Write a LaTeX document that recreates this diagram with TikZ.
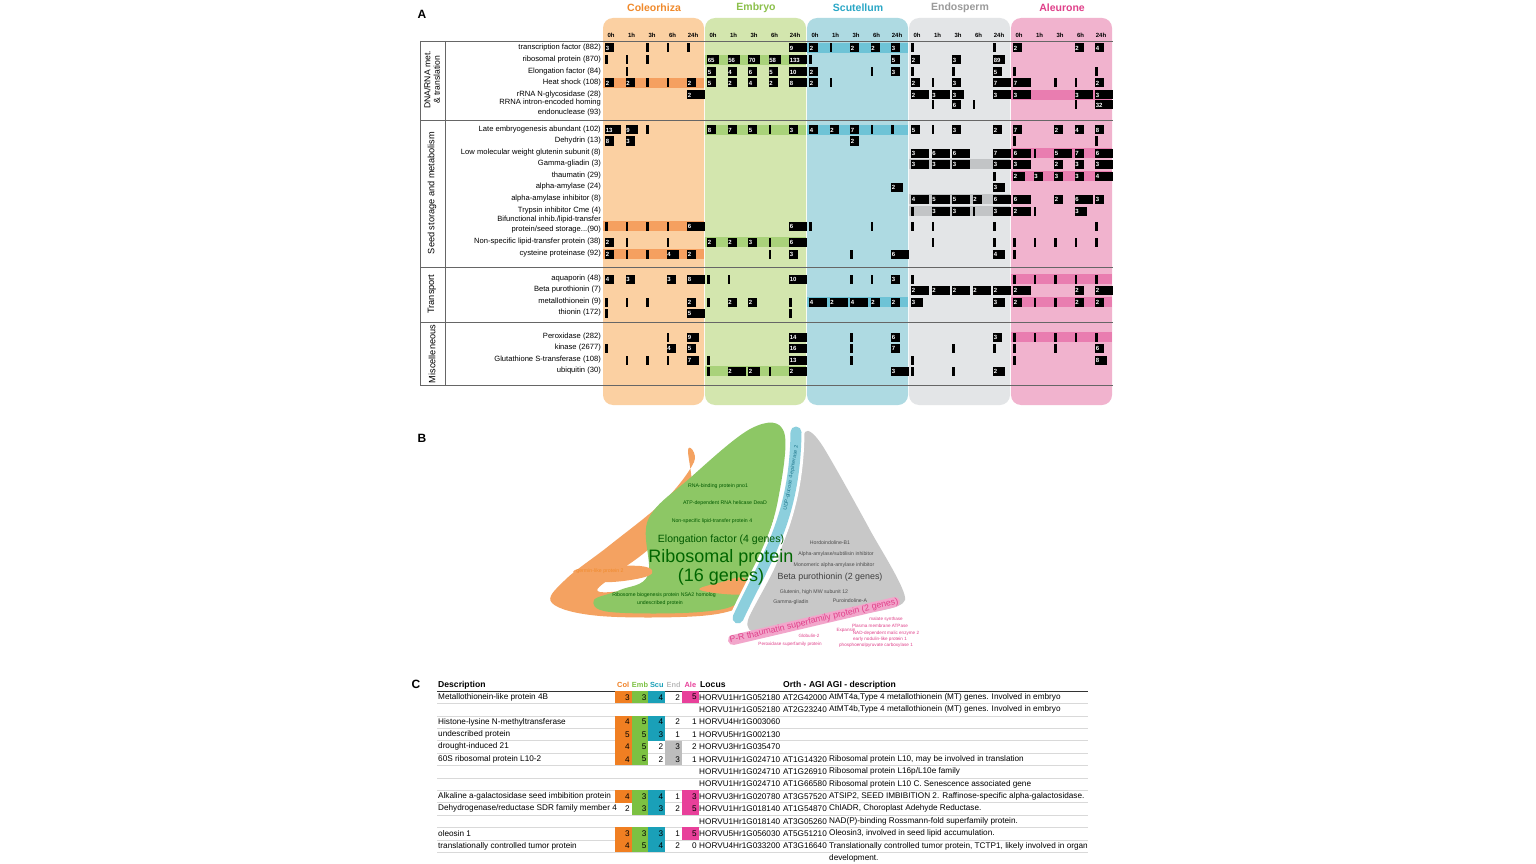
\documentclass[tikz,border=0pt]{standalone}
\usepackage{fontspec}
\setmainfont{Liberation Sans}
\usetikzlibrary{positioning}
\definecolor{colbg}{HTML}{FBD0A2}\definecolor{colbd}{HTML}{F5A060}\definecolor{colhd}{HTML}{F08A2C}
\definecolor{embbg}{HTML}{D3E6AE}\definecolor{embbd}{HTML}{A9D27A}\definecolor{embhd}{HTML}{8CC04B}
\definecolor{scubg}{HTML}{AEDAE2}\definecolor{scubd}{HTML}{6EC3D6}\definecolor{scuhd}{HTML}{2AA7C6}
\definecolor{endbg}{HTML}{E3E5E7}\definecolor{endbd}{HTML}{C2C4C6}\definecolor{endhd}{HTML}{9A9A9A}
\definecolor{alebg}{HTML}{F1B3CE}\definecolor{alebd}{HTML}{E97DB0}\definecolor{alehd}{HTML}{E0408A}
\definecolor{tc1}{HTML}{F07F22}\definecolor{tc2}{HTML}{7CC142}\definecolor{tc3}{HTML}{1AA0B8}
\definecolor{tc4}{HTML}{BDBDBD}\definecolor{tc5}{HTML}{E8409A}
\definecolor{bor}{HTML}{F4A261}\definecolor{bgr}{HTML}{8DC765}\definecolor{bbl}{HTML}{8CCFDD}
\definecolor{bgy}{HTML}{C8C8C8}\definecolor{bpk}{HTML}{F2A6CB}
% one black cell / one thin tick in panel A
\newcommand\bx[5]{\fill ({605+102*#1+20.5*#2},{#3-4.5}) rectangle ++(#4,9);
  \node[num] at ({605+102*#1+20.5*#2},#3) {#5};}
\newcommand\tk[3]{\fill ({605+102*#1+20.5*#2},{#3-4.5}) rectangle ++(2.5,9);}
\newcommand\band[3]{\fill[#3] ({603+102*#1},{#2-5}) rectangle ++(101,10);}
\newcommand\trow[2]{\foreach \c/\t in {#2}{\tk{\c}{\t}{#1}}}
\newcommand\brow[2]{\foreach \c/\t/\w/\n in {#2}{\bx{\c}{\t}{#1}{\w}{\n}}}
% score cells in panel C
\newcommand\srow[2]{\foreach \v/\f [count=\i] in {#2}{%
  \ifnum\f=1 \fill[tc\i] ({598+16.8*\i},{#1-6.2}) rectangle ++(16.8,12.4);\fi
  \node[tab,anchor=east] at ({614+16.8*\i},#1) {\v};}}
\begin{document}
\begin{tikzpicture}[x=1pt,y=-1pt,
  num/.style={anchor=west,inner sep=0.6pt,text=white,font=\fontsize{6}{6}\selectfont\bfseries},
  lab/.style={anchor=east,inner sep=1pt,font=\fontsize{7.6}{9.6}\selectfont,align=right},
  hd/.style={font=\fontsize{10.5}{12}\selectfont\bfseries},
  tm/.style={font=\fontsize{6}{6}\selectfont\bfseries},
  cat/.style={rotate=90,font=\fontsize{9.2}{10}\selectfont,align=center},
  tab/.style={inner sep=1pt,font=\fontsize{8.2}{9}\selectfont},
  tabh/.style={inner sep=1pt,anchor=west,font=\fontsize{8.6}{9}\selectfont\bfseries},
  tiny/.style={inner sep=0pt,font=\fontsize{5.2}{5.6}\selectfont},
  panel/.style={font=\fontsize{12}{13}\selectfont\bfseries}]
\useasboundingbox (0,0) rectangle (1536,864);
\fill[white] (0,0) rectangle (1536,864);

%% panel A
\node[panel] (pA) at (422,14) {A};
\foreach \nm/\bg/\hc [count=\i from 0] in {Coleorhiza/colbg/colhd,Embryo/embbg/embhd,Scutellum/scubg/scuhd,Endosperm/endbg/endhd,Aleurone/alebg/alehd}{
  \fill[\bg,rounded corners=10pt] ({603+102*\i},18) rectangle ++(101,387);
  \node[hd,text=\hc] (h\i) at ({654+102*\i},7.5) {\nm};
  \foreach \tt [count=\j from 0] in {0h,1h,3h,6h,24h}
    \node[tm] at ({611+102*\i+20.5*\j},35) {\tt};
}
% highlighted rows
\band{2}{48}{scubd}\band{1}{60}{embbd}\band{0}{83}{colbd}\band{4}{95}{alebd}
\band{1}{130}{embbd}\band{2}{130}{scubd}\band{4}{153}{alebd}\band{3}{164}{endbd}
\band{4}{176}{alebd}\band{3}{199}{endbd}\band{3}{211}{endbd}\band{0}{226}{colbd}
\band{1}{242}{embbd}\band{0}{254}{colbd}\band{4}{279}{alebd}\band{2}{302}{scubd}
\band{4}{302}{alebd}\band{4}{337}{alebd}\band{1}{371}{embbd}
% frame
\draw[gray!80!black,line width=0.6pt] (420,41) -- (1113,41) (420,120) -- (1113,120)
  (420,267) -- (1113,267) (420,322) -- (1113,322) (420,385) -- (1113,385)
  (420,41) -- (420,385) (445,41) -- (445,385);
\node[cat,font=\fontsize{8.6}{9.4}\selectfont] at (432,80) {DNA/RNA met.\\ \& translation};
\node[cat] at (432,193) {Seed storage and metabolism};
\node[cat] at (432,294) {Transport};
\node[cat] at (432,354) {Miscelleneous};
% row labels
\foreach \yy/\tx in {48/transcription factor (882),60/ribosomal protein (870),72/Elongation factor (84),
  83/Heat shock (108),95/rRNA N-glycosidase (28),103/RRNA intron-encoded homing,113/endonuclease (93),
  130/Late embryogenesis abundant (102),141/Dehydrin (13),153/Low molecular weight glutenin subunit (8),
  164/Gamma-gliadin (3),176/thaumatin  (29),187/alpha-amylase (24),199/alpha-amylase inhibitor (8),
  211/Trypsin inhibitor Cme (4),220/{Bifunctional inhib./lipid-transfer},230/{protein/seed storage...(90)},
  242/Non-specific lipid-transfer protein (38),254/cysteine proteinase (92),279/aquaporin (48),
  290/Beta purothionin (7),302/metallothionein (9),313/thionin (172),337/Peroxidase (282),
  348/kinase (2677),360/Glutathione S-transferase (108),371/ubiquitin (30)}
  \node[lab] at (602,\yy) {\tx};
% cells
\trow{48}{0/2,0/3,0/4,2/1,3/0,3/4}
\brow{48}{0/0/9/3,1/4/18/9,2/0/9/2,2/2/9/2,2/3/9/2,2/4/9/3,4/0/9/2,4/3/9/2,4/4/9/4}
\trow{60}{0/0,0/1,0/2,2/0}
\brow{60}{1/0/12/65,1/1/12/56,1/2/12/70,1/3/12/58,1/4/18/133,2/4/9/5,3/0/9/2,3/2/9/3,3/4/12/89}
\trow{72}{0/1,2/3,3/0,3/2,4/0,4/4}
\brow{72}{1/0/9/5,1/1/9/4,1/2/9/6,1/3/9/5,1/4/18/10,2/0/9/2,2/4/9/3,3/4/9/5}
\trow{83}{0/2,0/3,2/1,3/1,4/2,4/3}
\brow{83}{0/0/9/2,0/1/9/2,0/4/9/2,1/0/9/5,1/1/9/2,1/2/9/4,1/3/9/2,1/4/18/8,2/0/9/2,3/0/9/2,3/2/9/3,3/4/18/7,4/0/18/7,4/4/9/2}
\brow{95}{0/4/18/2,3/0/18/2,3/1/18/3,3/2/12/3,3/4/18/3,4/0/18/3,4/3/18/3,4/4/18/3}
\trow{105}{3/1,3/3,4/3}
\brow{105}{3/2/9/6,4/4/18/32}
\trow{130}{0/2,1/3,2/3,2/4,3/1}
\brow{130}{0/0/16/13,0/1/12/9,1/0/9/8,1/1/9/7,1/2/9/5,1/4/9/3,2/0/9/4,2/1/9/2,2/2/9/7,3/0/9/5,3/2/9/3,3/4/9/2,4/0/9/7,4/2/9/2,4/3/9/4,4/4/9/8}
\trow{141}{4/0,4/4}
\brow{141}{0/0/9/8,0/1/9/3,2/2/9/2}
\trow{153}{4/1}
\brow{153}{3/0/18/3,3/1/18/6,3/2/18/6,3/4/18/7,4/0/18/6,4/2/18/5,4/3/9/7,4/4/18/6}
\brow{164}{3/0/18/3,3/1/18/3,3/2/18/3,3/4/18/3,4/0/18/3,4/2/9/2,4/3/9/3,4/4/18/3}
\trow{176}{3/4}
\brow{176}{4/0/12/2,4/1/9/3,4/2/9/3,4/3/9/3,4/4/18/4}
\brow{187}{2/4/12/2,3/4/12/3}
\brow{199}{3/0/18/4,3/1/18/5,3/2/18/5,3/3/9/2,3/4/18/6,4/0/18/6,4/2/9/2,4/3/18/6,4/4/9/3}
\trow{211}{3/0,3/3,4/1}
\brow{211}{3/1/18/3,3/2/18/3,3/4/18/3,4/0/18/2,4/3/12/3}
\trow{226}{0/0,0/1,0/2,0/3,2/0,2/3,3/0,3/1,3/4,4/4}
\brow{226}{0/4/18/6,1/4/18/6}
\trow{242}{0/1,0/3,1/3,3/1,3/4,4/0,4/1,4/2,4/3,4/4}
\brow{242}{0/0/9/2,1/0/9/2,1/1/9/2,1/2/9/3,1/4/18/6}
\trow{254}{0/1,0/2,1/3,2/2,4/0}
\brow{254}{0/0/9/2,0/3/12/4,0/4/9/2,1/4/9/3,2/4/18/6,3/4/12/4}
\trow{279}{1/0,1/1,2/2,2/3,3/0,4/0,4/1,4/2,4/3,4/4}
\brow{279}{0/0/9/4,0/1/9/3,0/3/9/3,0/4/18/8,1/4/18/10,2/4/9/3}
\brow{290}{3/0/18/2,3/1/18/2,3/2/18/2,3/3/18/2,3/4/18/2,4/0/18/2,4/3/9/2,4/4/18/2}
\trow{302}{0/0,0/1,0/2,1/0,1/4,4/1,4/2}
\brow{302}{0/4/9/2,1/1/9/2,1/2/9/2,2/0/18/4,2/1/18/2,2/2/18/4,2/3/9/2,2/4/9/2,3/0/12/3,3/4/12/3,4/0/9/2,4/3/9/2,4/4/9/2}
\trow{313}{0/0,1/4}
\brow{313}{0/4/18/5}
\trow{337}{0/3,2/2,4/0,4/1,4/2,4/3,4/4}
\brow{337}{0/4/12/9,1/4/18/14,2/4/9/6,3/4/9/3}
\trow{348}{0/0,2/2,3/2,3/4,4/0,4/2}
\brow{348}{0/3/9/4,0/4/9/5,1/4/18/16,2/4/9/7,4/4/9/6}
\trow{360}{0/1,0/2,0/3,1/0,2/2,3/0,4/0}
\brow{360}{0/4/12/7,1/4/18/13,4/4/12/8}
\trow{371}{1/0,1/3,3/0,3/2}
\brow{371}{1/1/18/2,1/2/12/2,1/4/18/2,2/4/18/3,3/4/12/2}

%% panel B
\node[panel] (pB) at (422,438) {B};
\fill[bor] plot[smooth cycle,tension=0.6] coordinates {(688,450) (694,462) (665,500) (610,545)
  (565,580) (552,603) (600,616) (700,616) (744,605) (746,587) (700,590) (655,588) (600,592)
  (610,578) (650,548) (690,505)};
\fill[bgr] plot[smooth cycle,tension=0.6] coordinates {(752,428) (784,432) (778,500) (760,560)
  (742,600) (700,612) (610,612) (594,600) (620,590) (648,575) (648,520) (690,478)};
\fill[bor] plot[smooth cycle,tension=0.7] coordinates {(575,570) (640,566) (648,576) (600,582)};
\fill[bor] plot[smooth cycle,tension=0.7] coordinates {(744,578) (746,594) (700,590) (722,582)};
\fill[bgy] plot[smooth cycle,tension=0.4] coordinates {(805,432) (822,445) (870,530) (905,600)
  (850,616) (760,632) (748,620) (778,560) (795,480)};
\draw[white,line width=17pt,line cap=round] (796,432) .. controls (795,520) and (765,560) .. (738,618);
\draw[bbl,line width=11pt,line cap=round] (796,432) .. controls (795,520) and (765,560) .. (738,618);
\draw[bpk,line width=10pt,line cap=round] (733,640) -- (895,602);
\node[tiny,text=scuhd!70!black,rotate=80] at (791,478) {UDP-glucose 4-epimerase 2};
\foreach \xx/\yy/\tx in {718/486/RNA-binding protein pno1,725/503/ATP-dependent RNA helicase DeaD,
  712/521/Non-specific lipid-transfer protein 4,664/595/Ribosome biogenesis protein NSA2 homolog,
  660/603/undescribed protein}
  \node[tiny,text=green!35!black] at (\xx,\yy) {\tx};
\node[text=green!35!black,font=\fontsize{10.5}{11}\selectfont] (ef) at (721,540) {Elongation factor (4 genes)};
\node[text=green!40!black,font=\fontsize{18}{19}\selectfont,align=center,below=-3pt of ef] (rp) {Ribosomal protein\\(16 genes)};
\node[tiny,text=colhd] at (600,571) {germin-like protein 2};
\foreach \xx/\yy/\tx in {830/543/Hordoindoline-B1,836/554/{Alpha-amylase/subtilisin inhibitor},
  834/565/Monomeric alpha-amylase inhibitor,814/592/{Glutenin, high MW subunit 12},
  791/602/Gamma-gliadin,850/601/Puroindoline-A}
  \node[tiny,text=black!70] at (\xx,\yy) {\tx};
\node[text=black!75,font=\fontsize{8.9}{9}\selectfont] (bp) at (830,577) {Beta purothionin (2 genes)};
\node[text=alehd,font=\fontsize{8.8}{9}\selectfont,rotate=13] (pr) at (814,621) {P-R thaumatin superfamily protein (2 genes)};
\foreach \xx/\yy/\tx in {886/619/malate synthase,880/626/Plasma membrane ATPase,
  886/633/NAD-dependent malic enzyme 2,846/630/Expansin,809/636/Globulin-2,880/639/early nodulin-like protein 1,
  790/644/Peroxidase superfamily protein,876/645/phosphoenolpyruvate carboxylase 1}
  \node[tiny,text=alehd,font=\fontsize{4.6}{5}\selectfont] at (\xx,\yy) {\tx};

%% panel C
\node[panel] (pC) at (416,684) {C};
\node[tabh] at (437,685) {Description};
\foreach \nm [count=\i] in {Col,Emb,Scu,End,Ale}
  \node[tabh,anchor=center,text=tc\i,inner sep=0pt,font=\fontsize{7.4}{8}\selectfont\bfseries] at ({606.4+16.8*\i},685) {\nm};
\node[tabh] at (699,685) {Locus};
\node[tabh] at (782,685) {Orth - AGI AGI - description};
\draw[black!80,line width=0.8pt] (437,691) -- (1088,691);
\foreach \k in {1,...,13} \draw[black!15,line width=0.4pt] (437,{691+12.4*\k}) -- (1088,{691+12.4*\k});
\foreach \dd/\lc/\ag/\ds [count=\k] in {
  Metallothionein-like protein 4B/HORVU1Hr1G052180/AT2G42000/{AtMT4a,Type 4 metallothionein (MT) genes. Involved in embryo},
  /HORVU1Hr1G052180/AT2G23240/{AtMT4b,Type 4 metallothionein (MT) genes. Involved in embryo},
  Histone-lysine N-methyltransferase/HORVU4Hr1G003060//,
  undescribed protein/HORVU5Hr1G002130//,
  drought-induced 21/HORVU3Hr1G035470//,
  60S ribosomal protein L10-2/HORVU1Hr1G024710/AT1G14320/{Ribosomal protein L10, may be involved in translation},
  /HORVU1Hr1G024710/AT1G26910/{Ribosomal protein L16p/L10e family},
  /HORVU1Hr1G024710/AT1G66580/Ribosomal protein L10 C. Senescence associated gene,
  Alkaline a-galactosidase seed imbibition protein/HORVU3Hr1G020780/AT3G57520/{ATSIP2, SEED IMBIBITION 2. Raffinose-specific alpha-galactosidase.},
  {Dehydrogenase/reductase SDR family member 4}/HORVU1Hr1G018140/AT1G54870/{ChlADR, Choroplast Adehyde Reductase.},
  /HORVU1Hr1G018140/AT3G05260/NAD(P)-binding Rossmann-fold superfamily protein.,
  oleosin 1/HORVU5Hr1G056030/AT5G51210/{Oleosin3, involved in seed lipid accumulation.},
  translationally controlled tumor protein/HORVU4Hr1G033200/AT3G16640/{Translationally controlled tumor protein, TCTP1, likely involved in organ}}{
  \node[tab,anchor=west] at (437,{697.2+12.4*(\k-1)}) {\dd};
  \node[tab,anchor=west] at (698,{697.2+12.4*(\k-1)}) {\lc};
  \node[tab,anchor=west] at (782,{697.2+12.4*(\k-1)}) {\ag};
  \node[tab,anchor=west] at (828,{697.2+12.4*(\k-1)}) {\ds};
}
\node[tab,anchor=west] at (828,858) {development.};
\srow{697.2}{3/1,3/1,4/1,2/0,5/1}
\srow{722}{4/1,5/1,4/1,2/0,1/0}
\srow{734.4}{5/1,5/1,3/1,1/0,1/0}
\srow{746.8}{4/1,5/1,2/0,3/1,2/0}
\srow{759.2}{4/1,5/1,2/0,3/1,1/0}
\srow{796.4}{4/1,3/1,4/1,1/0,3/1}
\srow{808.8}{2/0,3/1,3/1,2/0,5/1}
\srow{833.6}{3/1,3/1,3/1,1/0,5/1}
\srow{846}{4/1,5/1,4/1,2/0,0/0}
\end{tikzpicture}
\end{document}
